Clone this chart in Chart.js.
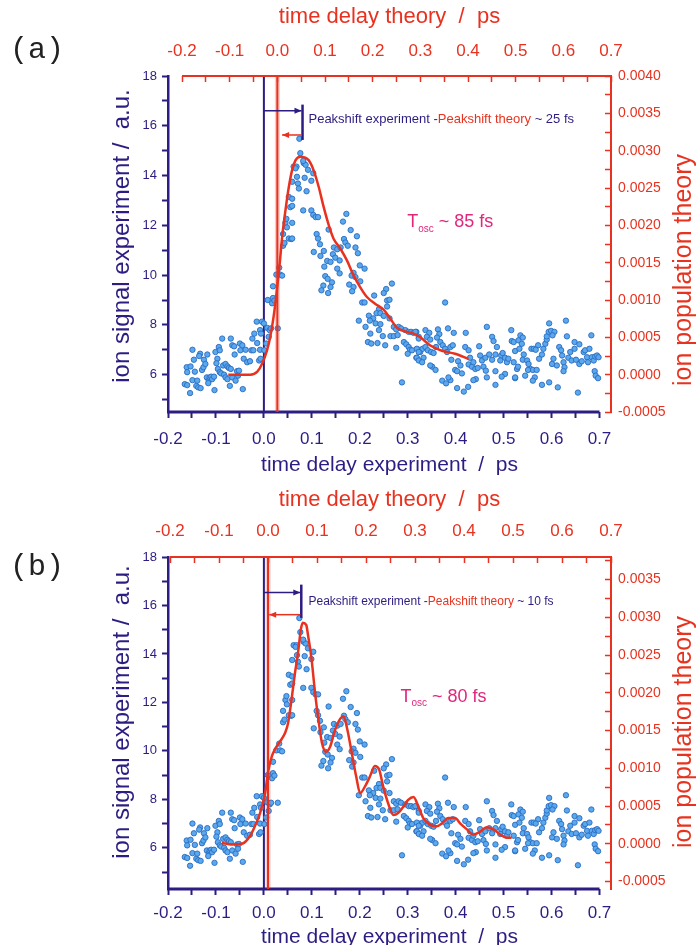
<!DOCTYPE html>
<html>
<head>
<meta charset="utf-8">
<script src="https://cdn.jsdelivr.net/npm/chart.js@4.4.1/dist/chart.umd.min.js"></script>
<style>
  body { margin: 0; background: #fff; width: 698px; height: 945px; overflow: hidden; position: relative; }
  canvas { position: absolute; left: 0; }
  .tag { position: absolute; left: 10px; font: 30px "Liberation Mono", monospace; line-height: 30px; color: #222; }
</style>
</head>
<body>
<canvas id="chartA" width="698" height="482" style="top:0"></canvas>
<canvas id="chartB" width="698" height="466" style="top:482px"></canvas>
<div class="tag" style="top:35px">(a)</div>
<div class="tag" style="top:552px">(b)</div>
<script>
const NAVY = '#2b1d82';
const RED = '#e8321f';
const PINK = '#e0267d';
const FONT = '"Liberation Sans", Arial, sans-serif';

// experiment: time delay (ps) and ion signal (a.u.) - same data in both panels
const expDelay = [
  -0.149, -0.161, -0.146, -0.160, -0.153, -0.144, -0.165, -0.160, -0.154, -0.149,
  -0.141, -0.137, -0.132, -0.139, -0.133, -0.135, -0.125, -0.129, -0.126, -0.118,
  -0.122, -0.119, -0.115, -0.113, -0.110, -0.108, -0.104, -0.116, -0.103, -0.101,
  -0.097, -0.099, -0.094, -0.092, -0.087, -0.096, -0.092, -0.089, -0.083, -0.080,
  -0.085, -0.080, -0.076, -0.073, -0.069, -0.069, -0.066, -0.062, -0.061, -0.076,
  -0.071, -0.066, -0.059, -0.056, -0.052, -0.054, -0.050, -0.049, -0.045, -0.044,
  -0.042, -0.038, -0.035, -0.029, -0.026, -0.022, -0.024, -0.020, -0.015, -0.014,
  -0.010, -0.008, -0.007, -0.008, -0.006, -0.004, 0.000, 0.001, 0.005, 0.007,
  0.010, 0.012, 0.008, 0.015, 0.017, 0.019, 0.022, 0.019, 0.026, 0.029,
  0.032, 0.034, 0.038, 0.040, 0.043, 0.040, 0.045, 0.047, 0.048, 0.052,
  0.057, 0.052, 0.055, 0.059, 0.062,
  0.074, 0.076, 0.068, 0.066, 0.083, 0.087, 0.082, 0.092, 0.103, 0.071,
  0.085, 0.099, 0.073, 0.089, 0.069, 0.059, 0.059, 0.082, 0.099, 0.103,
  0.108, 0.113, 0.059, 0.059, 0.172, 0.165, 0.135, 0.181, 0.110, 0.113,
  0.194, 0.167, 0.170, 0.117, 0.146, 0.153, 0.160, 0.175, 0.191, 0.196,
  0.104, 0.125, 0.144, 0.149, 0.118, 0.132, 0.139, 0.158, 0.126, 0.200,
  0.210, 0.153, 0.158, 0.187, 0.128, 0.133, 0.183, 0.191, 0.201, 0.142,
  0.178, 0.124, 0.139, 0.187, 0.120, 0.184, 0.134, 0.267, 0.255, 0.250,
  0.230, 0.257, 0.262, 0.205, 0.210, 0.240, 0.257, 0.235, 0.243, 0.219,
  0.250, 0.228, 0.221, 0.198, 0.233, 0.243, 0.262, 0.212, 0.240, 0.222,
  0.271, 0.276, 0.281, 0.286, 0.295, 0.302, 0.307, 0.312, 0.318, 0.323,
  0.264, 0.271, 0.279, 0.248, 0.217, 0.224, 0.237, 0.253, 0.276, 0.292,
  0.297, 0.302, 0.305, 0.300, 0.309, 0.318, 0.323, 0.288,
  0.378, 0.316, 0.323, 0.319, 0.326, 0.331, 0.337, 0.345, 0.340, 0.347,
  0.337, 0.342, 0.333, 0.319, 0.323, 0.349, 0.363, 0.366, 0.361, 0.368,
  0.359, 0.373, 0.378, 0.384, 0.389, 0.394, 0.382, 0.396, 0.354, 0.351,
  0.358, 0.347, 0.391, 0.405, 0.410, 0.399, 0.413, 0.403, 0.421, 0.420,
  0.427, 0.430, 0.427, 0.434, 0.437, 0.441, 0.449, 0.451, 0.455, 0.462,
  0.458, 0.463, 0.446, 0.465, 0.476, 0.479, 0.470, 0.476, 0.483, 0.465,
  0.486, 0.483, 0.495, 0.498, 0.493, 0.503, 0.507, 0.517, 0.521, 0.516,
  0.524, 0.510, 0.521, 0.503, 0.496, 0.524, 0.483, 0.442, 0.437, 0.389,
  0.385, 0.372, 0.380, 0.403, 0.426, 0.417, 0.323, 0.330,
  0.528, 0.530, 0.524, 0.535, 0.531, 0.540, 0.538, 0.533, 0.542, 0.540,
  0.549, 0.552, 0.556, 0.561, 0.551, 0.545, 0.565, 0.561, 0.558, 0.563,
  0.572, 0.567, 0.569, 0.574, 0.580, 0.583, 0.587, 0.590, 0.590, 0.594,
  0.599, 0.606, 0.602, 0.595, 0.580, 0.595, 0.601, 0.604, 0.611, 0.613,
  0.616, 0.620, 0.622, 0.625, 0.627, 0.625, 0.632, 0.630, 0.635, 0.639,
  0.642, 0.648, 0.648, 0.651, 0.655, 0.658, 0.658, 0.663, 0.667, 0.670,
  0.674, 0.676, 0.679, 0.683, 0.684, 0.688, 0.691, 0.695, 0.698, 0.690,
  0.692, 0.697
];
const expSignal = [
  7.00, 6.30, 6.60, 6.10, 6.33, 6.12, 5.62, 5.58, 5.26, 5.78,
  5.55, 5.49, 5.46, 5.76, 6.84, 6.75, 6.60, 6.19, 6.30, 6.81,
  6.43, 5.89, 5.76, 5.89, 5.92, 5.82, 5.92, 5.66, 5.38, 6.91,
  6.64, 6.46, 7.11, 6.98, 7.45, 6.23, 6.10, 6.05, 6.00, 5.89,
  6.37, 6.43, 6.33, 6.27, 6.23, 7.45, 7.18, 7.14, 6.81, 5.82,
  5.55, 5.89, 5.76, 6.14, 6.16, 5.96, 7.25, 6.98, 7.18, 5.42,
  6.64, 7.00, 6.50, 6.54, 6.98, 6.98, 7.45, 7.65, 8.13, 7.27,
  6.57, 7.00, 6.64, 7.79, 7.65, 8.13, 8.06, 6.98, 7.25, 7.88,
  7.52, 7.79, 9.00, 7.86, 8.87, 9.08, 8.98, 9.55, 10.02, 7.86,
  10.30, 10.02, 9.98, 11.18, 11.29, 11.65, 12.10, 12.26, 11.92, 11.47,
  11.45, 13.14, 12.73, 13.75, 14.36,
  15.48, 14.90, 14.36, 14.29, 14.50, 14.43, 14.59, 14.23, 14.09, 13.68,
  13.91, 13.79, 13.48, 13.37, 13.95, 13.07, 12.78, 12.60, 12.60, 12.42,
  12.33, 12.33, 12.10, 11.47, 12.46, 12.15, 11.83, 11.81, 11.65, 11.47,
  11.56, 11.45, 11.31, 11.24, 11.11, 11.04, 11.11, 11.18, 11.11, 10.88,
  10.93, 10.97, 10.84, 10.70, 10.77, 10.57, 10.53, 10.59, 10.34, 10.39,
  10.26, 10.26, 10.07, 10.09, 9.96, 9.85, 9.98, 9.92, 9.75, 9.71,
  9.62, 9.58, 9.52, 9.52, 9.39, 9.35, 9.28, 9.66, 9.44, 9.28,
  9.18, 8.98, 9.01, 8.90, 8.90, 8.63, 8.74, 8.47, 8.47, 8.37,
  8.36, 8.26, 8.17, 8.17, 8.06, 8.03, 8.26, 7.92, 7.79, 7.65,
  7.92, 7.82, 7.92, 7.86, 7.79, 7.72, 7.72, 7.68, 7.72, 7.52,
  7.55, 7.55, 7.59, 7.55, 7.31, 7.25, 7.27, 7.18, 7.08, 7.31,
  7.22, 7.11, 7.00, 6.84, 6.98, 6.68, 7.00, 5.69,
  8.90, 7.72, 7.45, 7.04, 6.91, 7.04, 7.79, 7.68, 7.52, 7.41,
  7.11, 6.98, 6.68, 6.68, 6.91, 6.91, 7.82, 7.63, 7.49, 7.31,
  7.11, 7.18, 7.04, 7.86, 7.11, 7.18, 6.91, 7.68, 6.87, 6.32,
  6.19, 6.37, 6.60, 6.54, 6.37, 6.19, 6.05, 6.14, 7.68, 7.11,
  6.98, 6.68, 6.41, 6.32, 6.50, 6.23, 7.14, 6.77, 6.57, 6.68,
  6.32, 6.16, 6.27, 7.92, 7.52, 7.35, 6.81, 6.60, 6.14, 5.89,
  7.11, 6.81, 6.77, 6.87, 6.57, 6.68, 6.50, 7.35, 7.31, 7.79,
  6.95, 6.64, 6.50, 6.03, 5.92, 5.86, 5.59, 5.82, 5.78, 5.78,
  5.89, 5.76, 5.65, 5.46, 5.51, 5.32, 6.57, 6.50,
  6.23, 6.32, 5.89, 7.58, 7.38, 7.49, 7.24, 7.04, 6.81, 6.60,
  6.57, 6.43, 6.23, 6.19, 6.19, 5.96, 5.89, 5.76, 7.04, 7.04,
  7.18, 7.00, 6.19, 6.64, 6.81, 7.04, 7.24, 7.41, 7.54, 7.72,
  7.76, 7.72, 7.58, 8.06, 5.59, 5.69, 6.43, 6.64, 6.37, 5.49,
  7.11, 6.98, 6.77, 6.50, 6.30, 6.14, 7.54, 8.17, 6.68, 6.91,
  6.57, 7.31, 7.04, 6.60, 5.28, 7.22, 6.43, 6.54, 6.91, 6.98,
  6.70, 6.50, 7.04, 7.58, 6.70, 6.57, 6.73, 6.77, 6.70, 6.14,
  5.96, 5.86
];

// theory (a): time delay (ps) and ion population
const theoryDelayA = [
  -0.103, -0.078, -0.057, -0.042, -0.032, -0.022, -0.015, -0.008, -0.001, 0.005,
  0.010, 0.017, 0.024, 0.031, 0.038, 0.048, 0.066, 0.076, 0.087, 0.097,
  0.108, 0.118, 0.132, 0.146, 0.160, 0.174, 0.188, 0.205, 0.223, 0.237,
  0.251, 0.268, 0.286, 0.300, 0.321, 0.345, 0.373, 0.401
];
const theoryPopA = [
  0.00000, 0.00000, 0.00000, 0.00004, 0.000145, 0.00032, 0.00050, 0.00077, 0.00113, 0.00149,
  0.00184, 0.00220, 0.00251, 0.00274, 0.00287, 0.00292, 0.00287, 0.00274, 0.00251, 0.00225,
  0.00200, 0.00182, 0.00169, 0.00153, 0.00133, 0.00117, 0.00104, 0.00095, 0.00087, 0.00075,
  0.00063, 0.00058, 0.00055, 0.00050, 0.00039, 0.00032, 0.00028, 0.00021
];

// theory (b)
const theoryDelayB = [
  -0.094, -0.073, -0.053, -0.037, -0.027, -0.016, -0.006, 0.001, 0.008, 0.014,
  0.025, 0.035, 0.041, 0.048, 0.055, 0.062, 0.067, 0.071, 0.078, 0.082,
  0.089, 0.096, 0.103, 0.110, 0.118, 0.127, 0.135, 0.144, 0.154, 0.162,
  0.171, 0.180, 0.188, 0.198, 0.208, 0.218, 0.227, 0.235, 0.246, 0.256,
  0.266, 0.276, 0.286, 0.297, 0.307, 0.317, 0.331, 0.344, 0.355, 0.368,
  0.382, 0.392, 0.406, 0.419, 0.433, 0.446, 0.460, 0.474, 0.487, 0.497
];
const theoryPopB = [
  0.00001, -0.00001, 0.00000, 0.00010, 0.00023, 0.00041, 0.00067, 0.00098, 0.00116, 0.00125,
  0.00136, 0.00147, 0.00160, 0.00191, 0.00226, 0.00257, 0.00284, 0.00293, 0.00290, 0.00275,
  0.00244, 0.00200, 0.00164, 0.00134, 0.00122, 0.00129, 0.00147, 0.00162, 0.00169, 0.00151,
  0.00120, 0.00089, 0.00067, 0.00076, 0.00089, 0.00103, 0.00098, 0.00076, 0.00052, 0.00038,
  0.00041, 0.00049, 0.00058, 0.00062, 0.00049, 0.00034, 0.00025, 0.00023, 0.00027, 0.00034,
  0.00034, 0.00027, 0.00019, 0.00012, 0.00016, 0.00022, 0.00019, 0.00012, 0.00008, 0.00008
];

// both time axes are drawn only over this range
const delayRange = [-0.2, 0.7];

function pairs(xs, ys) {
  return xs.map((x, i) => ({ x: x, y: ys[i] }));
}

// label only every `step`, the ticks in between stay unlabelled
function labelEvery(step, digits) {
  return v => {
    const k = v / step;
    return Math.abs(k - Math.round(k)) < 1e-6 ? v.toFixed(digits) : '';
  };
}

function hline(ctx, x1, x2, y, color, width) {
  ctx.strokeStyle = color;
  ctx.lineWidth = width;
  ctx.beginPath();
  ctx.moveTo(x1, y);
  ctx.lineTo(x2, y);
  ctx.stroke();
}

function arrow(ctx, x1, x2, y, color, headAt) {
  hline(ctx, x1, x2, y, color, 1.5);
  ctx.fillStyle = color;
  const hx = headAt === 'left' ? x1 : x2;
  const dir = headAt === 'left' ? 1 : -1;
  ctx.beginPath();
  ctx.moveTo(hx, y);
  ctx.lineTo(hx + dir * 7, y - 3);
  ctx.lineTo(hx + dir * 7, y + 3);
  ctx.closePath();
  ctx.fill();
}

function drawParts(ctx, x, y, parts) {
  for (const p of parts) {
    ctx.font = p.font;
    ctx.fillStyle = p.color;
    ctx.fillText(p.text, x, y + (p.dy || 0));
    x += ctx.measureText(p.text).width;
  }
}

// vertical axis title, read from bottom to top
function sideTitle(ctx, text, cx, cy, color, size) {
  ctx.save();
  ctx.translate(cx, cy);
  ctx.rotate(-Math.PI / 2);
  ctx.textAlign = 'center';
  ctx.textBaseline = 'middle';
  ctx.font = size + 'px ' + FONT;
  ctx.fillStyle = color;
  ctx.fillText(text, 0, 0);
  ctx.restore();
}

const annotate = {
  id: 'annotate',
  beforeDatasetsDraw(chart) {
    const { ctx, chartArea: a, scales } = chart;
    const px = scales.x.getPixelForValue(0);
    ctx.save();
    ctx.strokeStyle = NAVY;
    ctx.lineWidth = 2;
    ctx.beginPath();
    ctx.moveTo(px, a.top);
    ctx.lineTo(px, a.bottom);
    ctx.stroke();
    ctx.restore();
  },
  afterDatasetsDraw(chart, args, o) {
    const { ctx, chartArea: a, scales } = chart;
    const { x, y, x2 } = scales;
    ctx.save();
    // time axis lines, only from -0.2 to 0.7
    hline(ctx, x.getPixelForValue(delayRange[0]) - 1, x.getPixelForValue(delayRange[1]), a.bottom, NAVY, 3);
    hline(ctx, x2.getPixelForValue(delayRange[0]), x2.getPixelForValue(delayRange[1]) + 1, a.top, RED, 2);

    // theory zero line
    const rx = x2.getPixelForValue(0);
    ctx.strokeStyle = 'rgba(232,50,31,0.25)';
    ctx.lineWidth = 5;
    ctx.beginPath(); ctx.moveTo(rx, a.top); ctx.lineTo(rx, a.bottom); ctx.stroke();
    ctx.strokeStyle = RED;
    ctx.lineWidth = 2;
    ctx.beginPath(); ctx.moveTo(rx, a.top); ctx.lineTo(rx, a.bottom); ctx.stroke();

    // peakshift bracket
    const bx = x.getPixelForValue(o.bracketX);
    ctx.strokeStyle = NAVY;
    ctx.lineWidth = 2.5;
    ctx.beginPath();
    ctx.moveTo(bx, y.getPixelForValue(o.bracketTop));
    ctx.lineTo(bx, y.getPixelForValue(o.bracketBottom));
    ctx.stroke();
    arrow(ctx, x.getPixelForValue(0), bx - 1, y.getPixelForValue(o.blueArrowY), NAVY, 'right');
    arrow(ctx, x.getPixelForValue(o.redArrowFrom), bx - 1, y.getPixelForValue(o.redArrowY), RED, 'left');

    ctx.textBaseline = 'middle';
    ctx.textAlign = 'left';
    const f = o.fontSize + 'px ' + FONT;
    drawParts(ctx, x.getPixelForValue(o.labelX), y.getPixelForValue(o.labelY), [
      { text: 'Peakshift experiment -', color: NAVY, font: f },
      { text: 'Peakshift theory', color: RED, font: f },
      { text: ' ~ ' + o.shift, color: NAVY, font: f }
    ]);
    const big = '18px ' + FONT;
    drawParts(ctx, x.getPixelForValue(o.oscX), y.getPixelForValue(o.oscY), [
      { text: 'T', color: PINK, font: big },
      { text: 'osc', color: PINK, font: '10px ' + FONT, dy: 7 },
      { text: ' ~ ' + o.osc, color: PINK, font: big }
    ]);

    sideTitle(ctx, 'ion signal experiment /  a.u.', 122, o.leftTitleY, NAVY, 24);
    sideTitle(ctx, 'ion population theory', 684, o.rightTitleY, RED, 25);
    ctx.restore();
  }
};

function buildPanel(id, p) {
  return new Chart(document.getElementById(id), {
    type: 'scatter',
    data: {
      datasets: [
        {
          label: 'theory',
          data: pairs(p.theoryX, p.theoryY),
          xAxisID: 'x2',
          yAxisID: 'y2',
          showLine: true,
          borderColor: RED,
          borderWidth: 2.5,
          pointRadius: 0,
          cubicInterpolationMode: 'monotone',
          order: 0
        },
        {
          label: 'experiment',
          data: pairs(expDelay, expSignal),
          xAxisID: 'x',
          yAxisID: 'y',
          pointRadius: 2.7,
          pointBackgroundColor: '#5aa8ee',
          pointBorderColor: '#2a6cc0',
          pointBorderWidth: 0.9,
          order: 1
        }
      ]
    },
    options: {
      responsive: false,
      animation: false,
      layout: { padding: { left: 106, top: 0, right: 0, bottom: 0 } },
      plugins: {
        legend: { display: false },
        tooltip: { enabled: false },
        annotate: p.notes
      },
      scales: {
        x: {
          type: 'linear',
          position: 'bottom',
          min: -0.2,
          max: 0.724,
          afterFit: s => { s.height = p.bottomH; },
          border: { display: false },
          grid: { drawOnChartArea: false, color: NAVY, tickLength: 6, tickWidth: 2 },
          ticks: {
            stepSize: 0.05, maxTicksLimit: 100, includeBounds: false, autoSkip: false, maxRotation: 0,
            padding: p.bottomPad, color: NAVY, font: { size: 17, family: FONT },
            callback: labelEvery(0.1, 1)
          },
          title: {
            display: true, text: 'time delay experiment  /  ps', color: NAVY,
            font: { size: 21, family: FONT, lineHeight: 1 }, padding: { top: 0, bottom: p.bottomTitlePad }
          }
        },
        y: {
          type: 'linear',
          position: 'left',
          min: p.yMin,
          max: 18,
          afterFit: s => { s.width = 62; },
          border: { color: NAVY, width: 2.5 },
          grid: { drawOnChartArea: false, color: NAVY, tickLength: 6, tickWidth: 2 },
          ticks: {
            stepSize: 1, includeBounds: false, autoSkip: false, padding: 5,
            color: NAVY, font: { size: 13, family: FONT },
            callback: v => (v % 2 === 0 ? String(v) : '')
          }
        },
        x2: {
          type: 'linear',
          position: 'top',
          min: p.x2Min,
          max: 0.7,
          afterFit: s => { s.height = p.topH; },
          border: { display: false },
          grid: { drawOnChartArea: false, color: RED, tickLength: -6, tickWidth: 1.5 },
          ticks: {
            stepSize: 0.05, maxTicksLimit: 100, includeBounds: false, autoSkip: false, maxRotation: 0,
            padding: p.topPad, color: RED, font: { size: 17, family: FONT },
            callback: labelEvery(0.1, 1)
          },
          title: {
            display: true, text: 'time delay theory  /  ps', color: RED,
            font: { size: 22, family: FONT, lineHeight: 1 }, padding: { top: p.topTitlePad, bottom: 0 }
          }
        },
        y2: {
          type: 'linear',
          position: 'right',
          min: p.y2Min,
          max: p.y2Max,
          afterFit: s => { s.width = 87; },
          border: { color: RED, width: 2 },
          grid: { drawOnChartArea: false, color: RED, tickLength: -6, tickWidth: 1.5 },
          ticks: {
            stepSize: 0.00025, maxTicksLimit: 100, includeBounds: false, autoSkip: false, padding: 13,
            color: RED, font: { size: 14, family: FONT },
            callback: labelEvery(0.0005, 4)
          }
        }
      }
    },
    plugins: [annotate]
  });
}

buildPanel('chartA', {
  theoryX: theoryDelayA, theoryY: theoryPopA,
  yMin: 4.5, y2Min: -0.0005, y2Max: 0.004, x2Min: -0.2294,
  topH: 76, bottomH: 70, topPad: 20, bottomPad: 11, topTitlePad: 6, bottomTitlePad: 6,
  notes: {
    bracketX: 0.0806, bracketTop: 16.85, bracketBottom: 15.43,
    blueArrowY: 16.6, redArrowY: 15.63, redArrowFrom: 0.038,
    labelX: 0.093, labelY: 16.24, fontSize: 13, shift: '25 fs',
    oscX: 0.299, oscY: 12.14, osc: '85 fs',
    leftTitleY: 236, rightTitleY: 270
  }
});

buildPanel('chartB', {
  theoryX: theoryDelayB, theoryY: theoryPopB,
  yMin: 4.3, y2Min: -0.0006, y2Max: 0.0038, x2Min: -0.2041,
  topH: 75, bottomH: 59, topPad: 21, bottomPad: 8, topTitlePad: 7, bottomTitlePad: 0,
  notes: {
    bracketX: 0.078, bracketTop: 16.86, bracketBottom: 15.49,
    blueArrowY: 16.54, redArrowY: 15.62, redArrowFrom: 0.011,
    labelX: 0.093, labelY: 16.15, fontSize: 12, shift: '10 fs',
    oscX: 0.285, oscY: 12.24, osc: '80 fs',
    leftTitleY: 230, rightTitleY: 250
  }
});
</script>
</body>
</html>
